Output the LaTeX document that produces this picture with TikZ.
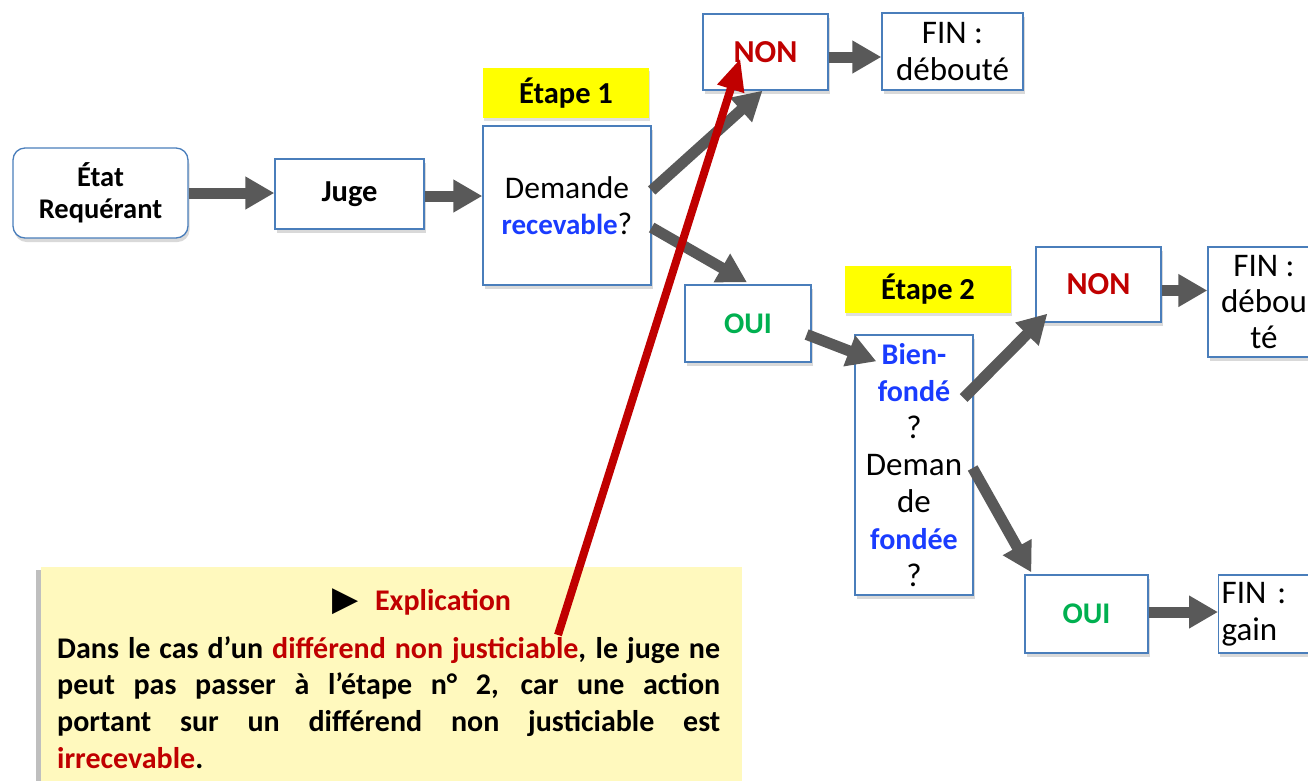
\documentclass[tikz,border=0pt]{standalone}
\usepackage{fontspec}
\setmainfont{Carlito}
\newfontfamily\symfont{DejaVu Sans}
\usetikzlibrary{arrows.meta,shadows}
\definecolor{boxblue}{HTML}{4A7EBB}
\definecolor{arrgray}{HTML}{595959}
\definecolor{txtblue}{HTML}{1A3CFF}
\definecolor{txtred}{HTML}{C00000}
\definecolor{txtgreen}{HTML}{00B050}
\definecolor{noteyellow}{HTML}{FFF9BE}
\definecolor{stepyellow}{HTML}{FFFF00}
\newcommand{\bluebold}[1]{\textcolor{txtblue}{\fontsize{30}{37}\selectfont\bfseries #1}}
\begin{document}
\begin{tikzpicture}[x=1pt,y=-1pt,
  box/.style={draw=boxblue, line width=1.3pt, fill=white, inner sep=0pt, align=center,
    drop shadow={shadow xshift=1.5pt, shadow yshift=-4pt, opacity=0.3},
    font=\fontsize{33}{37}\selectfont},
  steplabel/.style={fill=stepyellow, inner sep=0pt, align=center,
    drop shadow={shadow xshift=1pt, shadow yshift=-3pt, opacity=0.25},
    font=\fontsize{30.5}{34}\selectfont\bfseries},
  flow/.style={draw=arrgray, line width=11pt, -{Triangle[length=29pt,width=31pt]}},
  pointer/.style={draw=txtred, line width=8pt, -{Triangle[length=32pt,width=26pt]}},
]
\useasboundingbox (0,0) rectangle (1308,780);
\clip (0,0) rectangle (1308,780);

% flow boxes
\node[box, rounded corners=12pt, minimum width=175pt, minimum height=90pt,
      font=\fontsize{28.5}{32}\selectfont\bfseries] (etat) at (100.5,193) {État\\Requérant};
\node[box, minimum width=149pt, minimum height=70pt, font=\fontsize{30.5}{34}\selectfont\bfseries] (juge) at (349.5,194) {Juge};
\node[steplabel, minimum width=166pt, minimum height=50pt] (etape1) at (566,93) {Étape 1};
\node[box, minimum width=168pt, minimum height=159pt, font=\fontsize{31.5}{36}\selectfont] (demande) at (567,205.5)
  {Demande\\{\color{txtblue}\fontsize{29}{36}\selectfont\bfseries recevable}?};
\node[box, minimum width=125pt, minimum height=76pt, font=\fontsize{32}{36}\selectfont\bfseries] (non1) at (765.5,52) {\textcolor{txtred}{NON}};
\node[box, minimum width=141pt, minimum height=77pt] (fin1) at (952.5,51.5) {FIN :\\débouté};
\node[box, minimum width=126pt, minimum height=77pt, font=\fontsize{30}{36}\selectfont\bfseries] (oui1) at (748,323.5) {\textcolor{txtgreen}{OUI}};
\node[steplabel, minimum width=166pt, minimum height=47pt] (etape2) at (928,289.5) {Étape 2};
\node[box, minimum width=118pt, minimum height=260pt, font=\fontsize{33}{37}\selectfont] (bien) at (914,465)
  {\bluebold{Bien-}\\\bluebold{fondé}\\?\\Deman\\de\\\bluebold{fondée}\\?};
\node[box, minimum width=125pt, minimum height=75pt, font=\fontsize{32}{36}\selectfont\bfseries] (non2) at (1098.5,284.5) {\textcolor{txtred}{NON}};
\node[box, minimum width=112pt, minimum height=110pt, font=\fontsize{33}{36}\selectfont] (fin2) at (1264,302) {FIN :\\débou\\té};
\node[box, minimum width=123pt, minimum height=78pt, font=\fontsize{30}{36}\selectfont\bfseries] (oui2) at (1086.5,614) {\textcolor{txtgreen}{OUI}};
\node[box, anchor=west, text width=100pt, align=left, inner xsep=3pt, minimum height=78pt] (fin3) at (1218,614) {FIN :\\gain};

% explanation box
\node[fill=noteyellow, anchor=north west, minimum width=701pt, minimum height=240pt, inner sep=0pt,
      drop shadow={shadow xshift=-5pt, shadow yshift=-3pt, opacity=0.5}] (note) at (41,567) {};
\node[anchor=base, font=\fontsize{30}{32}\selectfont\bfseries] (notetitle) at (422,610)
  {{\symfont\fontsize{34}{34}\selectfont ▶}\hspace{16pt}\textcolor{txtred}{Explication}};
\node[anchor=north west, text width=663pt, align=justify, inner sep=0pt,
      font=\fontsize{30}{36.7}\selectfont\bfseries] (notebody) at (57,636)
  {Dans le cas d’un \textcolor{txtred}{différend non justiciable}, le juge ne\linebreak
   peut pas passer à l’étape n° 2, car une action\linebreak
   portant sur un différend non justiciable est\linebreak
   \textcolor{txtred}{irrecevable}.};

% connectors
\draw[flow] (etat.east) -- (etat.east -| juge.west);
\draw[flow] ([yshift=-2pt]juge.east) -- ([yshift=-2pt]juge.east -| demande.west);
\draw[flow] ([yshift=15pt]demande.east) -- ([xshift=-3pt]non1.south);
\draw[flow] ([yshift=-22pt]demande.east) -- ([xshift=-1pt,yshift=2pt]oui1.north);
\draw[flow] ([yshift=-5pt]non1.east) -- ([yshift=-5pt]non1.east -| fin1.west);
\draw[flow] ([xshift=-5pt,yshift=-11pt]oui1.east) -- ([xshift=22pt,yshift=-27pt]bien.north west);
\draw[flow] ([xshift=-10pt,yshift=67pt]bien.east) -- ([xshift=12pt,yshift=9pt]non2.south west);
\draw[flow] ([xshift=-1pt,yshift=-3pt]bien.east) -- ([xshift=7pt,yshift=2pt]oui2.north west);
\draw[flow] ([yshift=-6pt]non2.east) -- ([yshift=-6pt]non2.east -| fin2.west);
\draw[flow] ([yshift=2pt]oui2.east) -- ([yshift=2pt]oui2.east -| fin3.west);

\coordinate (redstart) at (558,635);
\draw[pointer] (redstart) -- ([xshift=38pt,yshift=-45pt]non1.north west);
\end{tikzpicture}
\end{document}
